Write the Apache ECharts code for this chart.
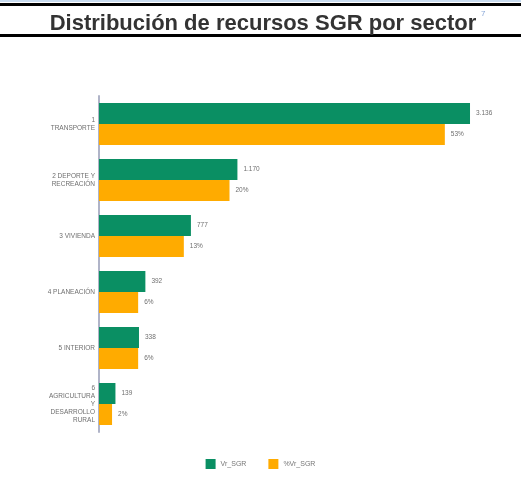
<!DOCTYPE html>
<html>
<head>
<meta charset="utf-8">
<script src="https://cdn.jsdelivr.net/npm/echarts@6/dist/echarts.min.js"></script>
<style>
html, body { margin: 0; padding: 0; background: #fff; }
#main { width: 521px; height: 487px; }
</style>
</head>
<body>
<div id="main"></div>
<script>
// datos por sector
var sectores = ['1\nTRANSPORTE', '2 DEPORTE Y\nRECREACIÓN', '3 VIVIENDA', '4 PLANEACIÓN', '5 INTERIOR', '6\nAGRICULTURA\nY\nDESARROLLO\nRURAL'];
var vrSGR = [3136, 1170, 777, 392, 338, 139];
var pctSGR = [53, 20, 13, 6, 6, 2];
var leyenda = ['Vr_SGR', '%Vr_SGR'];

function fmtMiles(v) {
    return String(v).replace(/\B(?=(\d{3})+(?!\d))/g, '.');
}

var myChart = echarts.init(document.getElementById('main'));
var option = {
    animation: false,
    title: {
        text: 'Distribución de recursos SGR por sector',
        left: 258,
        textAlign: 'center',
        top: 8,
        textStyle: { fontFamily: 'Liberation Sans', fontSize: 22, fontWeight: 'bold', color: '#333' }
    },
    graphic: [
        { type: 'rect', left: 0, top: 0, shape: { width: 521, height: 2 }, style: { fill: '#c9dcf0' } },
        { type: 'rect', left: 0, top: 3, shape: { width: 521, height: 3 }, style: { fill: '#000' } },
        { type: 'rect', left: 0, top: 34, shape: { width: 521, height: 3 }, style: { fill: '#000' } },
        { type: 'text', left: 481, top: 10, style: { text: '7', fontSize: 8, fill: '#8aa8d8', fontFamily: 'Liberation Sans' } }
    ],
    legend: {
        data: leyenda,
        bottom: 13,
        left: 'center',
        itemWidth: 10,
        itemHeight: 10,
        itemGap: 22,
        icon: 'rect',
        textStyle: { fontSize: 7, color: '#777', fontFamily: 'Liberation Sans' }
    },
    grid: { left: 99, top: 96, width: 400, height: 336 },
    xAxis: [
        { type: 'value', min: 0, max: 3381, show: false },
        { type: 'value', min: 0, max: 61.3, show: false }
    ],
    yAxis: {
        type: 'category',
        inverse: true,
        data: sectores,
        axisLine: { lineStyle: { color: '#b0b4c8', width: 2 } },
        axisTick: { show: false },
        axisLabel: { fontSize: 6.5, color: '#6f6f6f', lineHeight: 8, margin: 4, fontFamily: 'Liberation Sans' }
    },
    series: [
        {
            name: leyenda[0],
            type: 'bar',
            xAxisIndex: 0,
            data: vrSGR,
            barWidth: 21,
            barGap: '0%',
            itemStyle: { color: '#0a8f63' },
            label: {
                show: true, position: 'right', distance: 6, fontSize: 6.5, color: '#6f6f6f',
                formatter: function (p) { return fmtMiles(p.value); }
            }
        },
        {
            name: leyenda[1],
            type: 'bar',
            xAxisIndex: 1,
            data: pctSGR,
            barWidth: 21,
            barGap: '0%',
            itemStyle: { color: '#ffab00' },
            label: {
                show: true, position: 'right', distance: 6, fontSize: 6.5, color: '#6f6f6f',
                formatter: function (p) { return p.value + '%'; }
            }
        }
    ]
};
myChart.setOption(option);
</script>
</body>
</html>
